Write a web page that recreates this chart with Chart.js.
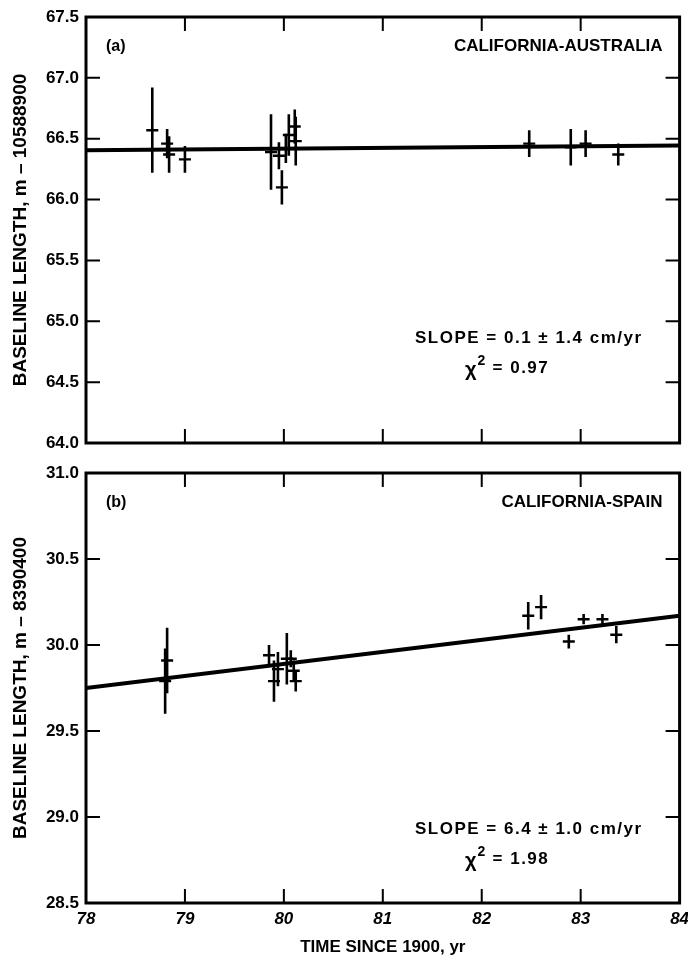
<!DOCTYPE html>
<html><head><meta charset="utf-8">
<script src="https://cdn.jsdelivr.net/npm/chart.js@4.4.1/dist/chart.umd.min.js"></script>
<style>
html,body{margin:0;padding:0;background:#fff;}
#wrap{position:relative;width:688px;height:970px;background:#fff;}
canvas{position:absolute;left:0;}
#c1{top:0;} #c2{top:458px;}
</style></head><body>
<div id="wrap"><canvas id="c1" width="688" height="458"></canvas><canvas id="c2" width="688" height="512"></canvas></div>
<script>
// ---- data ----
const yearTicks = [78, 79, 80, 81, 82, 83, 84];

// (a) California-Australia, baseline length in m - 10588900
const ausTime = [78.67, 78.82, 78.84, 79.00, 79.87, 79.95, 79.98, 80.02, 80.05, 80.11, 80.12, 82.48, 82.90, 83.05, 83.38];
const ausLen  = [66.57, 66.46, 66.37, 66.33, 66.39, 66.36, 66.10, 66.42, 66.53, 66.60, 66.48, 66.46, 66.43, 66.46, 66.37];
const ausErr  = [0.35, 0.12, 0.15, 0.11, 0.31, 0.11, 0.14, 0.12, 0.17, 0.14, 0.20, 0.11, 0.15, 0.11, 0.09];
const ausFitTime = [78, 84];
const ausFitLen  = [66.405, 66.445];
const ausYTicks = [64.0, 64.5, 65.0, 65.5, 66.0, 66.5, 67.0, 67.5];

// (b) California-Spain, baseline length in m - 8390400
const spaTime = [78.80, 78.82, 79.85, 79.90, 79.94, 80.03, 80.07, 80.10, 80.12, 82.47, 82.60, 82.88, 83.03, 83.22, 83.36];
const spaLen  = [29.79, 29.91, 29.94, 29.79, 29.86, 29.92, 29.92, 29.85, 29.79, 30.17, 30.22, 30.02, 30.15, 30.15, 30.06];
const spaErr  = [0.19, 0.19, 0.06, 0.12, 0.10, 0.15, 0.05, 0.06, 0.06, 0.08, 0.07, 0.04, 0.03, 0.03, 0.05];
const spaFitTime = [78, 84];
const spaFitLen  = [29.75, 30.17];
const spaYTicks = [28.5, 29.0, 29.5, 30.0, 30.5, 31.0];

const FONT = "'Liberation Sans', Arial, sans-serif";

const framePlugin = {
  id: 'frame',
  afterDatasetsDraw(chart) {
    const {ctx, chartArea: a, scales: {x, y}} = chart;
    ctx.save();
    ctx.strokeStyle = '#000';
    ctx.lineWidth = 2;
    const L = 14;
    ctx.beginPath();
    y.ticks.forEach(t => {
      const py = y.getPixelForValue(t.value);
      if (py > a.top + 3 && py < a.bottom - 3) {
        ctx.moveTo(a.left, py); ctx.lineTo(a.left + L, py);
        ctx.moveTo(a.right, py); ctx.lineTo(a.right - L, py);
      }
    });
    x.ticks.forEach(t => {
      const px = x.getPixelForValue(t.value);
      if (px > a.left + 3 && px < a.right - 3) {
        ctx.moveTo(px, a.bottom); ctx.lineTo(px, a.bottom - L);
        ctx.moveTo(px, a.top); ctx.lineTo(px, a.top + L);
      }
    });
    ctx.stroke();
    ctx.lineWidth = 3;
    ctx.strokeRect(a.left, a.top, a.right - a.left, a.bottom - a.top);
    ctx.restore();
  }
};

const errPlugin = {
  id: 'errbars',
  afterDatasetsDraw(chart, args, opts) {
    const {ctx, scales: {x, y}} = chart;
    ctx.save();
    ctx.strokeStyle = '#000';
    ctx.lineWidth = 2.6;
    ctx.beginPath();
    opts.t.forEach((t, i) => {
      const px = x.getPixelForValue(t);
      ctx.moveTo(px, y.getPixelForValue(opts.v[i] + opts.e[i]));
      ctx.lineTo(px, y.getPixelForValue(opts.v[i] - opts.e[i]));
    });
    ctx.stroke();
    ctx.restore();
  }
};

const textPlugin = {
  id: 'notes',
  afterDraw(chart, args, opts) {
    const {ctx, chartArea: a} = chart;
    ctx.save();
    ctx.fillStyle = '#000';
    ctx.textBaseline = 'alphabetic';
    // panel letter
    ctx.font = `bold 16px ${FONT}`;
    ctx.textAlign = 'left';
    ctx.fillText(opts.letter, a.left + 20, a.top + 34);
    // baseline name
    ctx.font = `bold 17px ${FONT}`;
    ctx.textAlign = 'right';
    ctx.fillText(opts.name, a.right - 17, a.top + 34);
    // slope
    ctx.font = `bold 17px ${FONT}`;
    ctx.textAlign = 'left';
    ctx.letterSpacing = '1.5px';
    const sx = a.left + 329;
    ctx.fillText(opts.slope, sx, a.bottom - opts.slopeOff);
    // chi^2
    ctx.letterSpacing = '0px';
    const cx = sx + 50, cy = a.bottom - opts.slopeOff + 30;
    ctx.font = `bold 20px ${FONT}`;
    ctx.fillText('χ', cx, cy + 3);
    let w = ctx.measureText('χ').width;
    ctx.font = `bold 14px ${FONT}`;
    ctx.fillText('2', cx + w + 1, cy - 8);
    const w2 = ctx.measureText('2').width;
    ctx.font = `bold 17px ${FONT}`;
    ctx.letterSpacing = '1.5px';
    ctx.fillText(' = ' + opts.chi, cx + w + w2 + 2, cy);
    ctx.restore();
  }
};

function makeChart(id, cfg) {
  const pts = cfg.t.map((t, i) => ({x: t, y: cfg.v[i]}));
  const fit = cfg.ft.map((t, i) => ({x: t, y: cfg.fv[i]}));
  return new Chart(document.getElementById(id), {
    type: 'scatter',
    data: {
      datasets: [
        {data: fit, showLine: true, borderColor: '#000', borderWidth: 4, pointRadius: 0, order: 2},
        {data: pts, pointStyle: 'line', pointRadius: 6, pointBorderWidth: 2.4, borderColor: '#000', backgroundColor: '#000', order: 1}
      ]
    },
    options: {
      responsive: false,
      animation: false,
      devicePixelRatio: 1,
      layout: {padding: cfg.padding},
      plugins: {
        legend: {display: false},
        tooltip: {enabled: false},
        errbars: {t: cfg.t, v: cfg.v, e: cfg.e},
        notes: cfg.notes
      },
      scales: {
        x: {
          type: 'linear', min: 78, max: 84,
          afterBuildTicks: s => { s.ticks = yearTicks.map(v => ({value: v})); },
          grid: {display: false, drawTicks: false}, border: {display: false},
          ticks: {display: cfg.showX, color: '#000', padding: 6, font: {family: FONT, size: 17, weight: 'bold', style: 'italic'}, callback: v => String(v)},
          title: {display: cfg.showX, text: 'TIME SINCE 1900, yr', color: '#000', font: {family: FONT, size: 17, weight: 'bold'}, padding: {top: 0, bottom: 12}},
          afterFit: s => { s.height = cfg.xHeight; s.paddingLeft = 0; s.paddingRight = 0; }
        },
        y: {
          type: 'linear', min: cfg.ymin, max: cfg.ymax,
          afterBuildTicks: s => { s.ticks = cfg.yt.map(v => ({value: v})); },
          grid: {display: false, drawTicks: false}, border: {display: false},
          ticks: {color: '#000', padding: 7, font: {family: FONT, size: 17, weight: 'bold'}, callback: v => v.toFixed(1)},
          title: {display: true, text: cfg.ytitle, color: '#000', font: {family: FONT, size: 19, weight: 'bold'}, padding: {top: 9, bottom: 0}},
          afterFit: s => { s.width = 86; s.paddingTop = 0; s.paddingBottom = 0; }
        }
      }
    },
    plugins: [errPlugin, framePlugin, textPlugin]
  });
}

makeChart('c1', {
  t: ausTime, v: ausLen, e: ausErr, ft: ausFitTime, fv: ausFitLen,
  ymin: 64.0, ymax: 67.5, yt: ausYTicks,
  ytitle: 'BASELINE LENGTH, m – 10588900',
  showX: false, xHeight: 0,
  padding: {left: 0, right: 3, top: 17, bottom: 15},
  notes: {letter: '(a)', name: 'CALIFORNIA-AUSTRALIA', slope: 'SLOPE = 0.1 ± 1.4 cm/yr', chi: '0.97', slopeOff: 100}
});

makeChart('c2', {
  t: spaTime, v: spaLen, e: spaErr, ft: spaFitTime, fv: spaFitLen,
  ymin: 28.5, ymax: 31.0, yt: spaYTicks,
  ytitle: 'BASELINE LENGTH, m – 8390400',
  showX: true, xHeight: 67,
  padding: {left: 0, right: 3, top: 15, bottom: 0},
  notes: {letter: '(b)', name: 'CALIFORNIA-SPAIN', slope: 'SLOPE = 6.4 ± 1.0 cm/yr', chi: '1.98', slopeOff: 69}
});
</script>
</body></html>
